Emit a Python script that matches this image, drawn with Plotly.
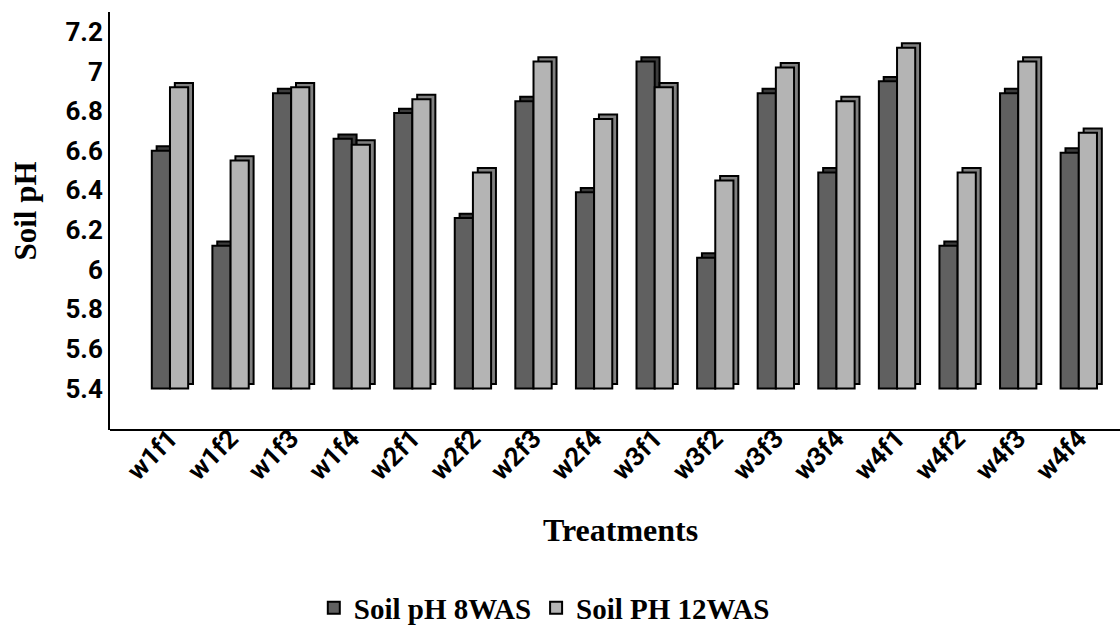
import plotly.graph_objects as go

categories = ["w1f1", "w1f2", "w1f3", "w1f4", "w2f1", "w2f2", "w2f3", "w2f4",
              "w3f1", "w3f2", "w3f3", "w3f4", "w4f1", "w4f2", "w4f3", "w4f4"]
ph_8was = [6.60, 6.12, 6.89, 6.66, 6.79, 6.26, 6.85, 6.39,
           7.05, 6.06, 6.89, 6.49, 6.95, 6.12, 6.89, 6.59]
ph_12was = [6.92, 6.55, 6.92, 6.63, 6.86, 6.49, 7.05, 6.76,
            6.92, 6.45, 7.02, 6.85, 7.12, 6.49, 7.05, 6.69]
y_tickvals = [5.4, 5.6, 5.8, 6.0, 6.2, 6.4, 6.6, 6.8, 7.0, 7.2]
y_ticktext = ["5.4", "5.6", "5.8", "6", "6.2", "6.4", "6.6", "6.8", "7", "7.2"]
series_names = ["Soil pH 8WAS", "Soil PH 12WAS"]

BASE = 5.4
W = 0.3       # bar width (category units)
SHIFT = 0.08  # depth offset (category units)
DEPTH = 0.022 # depth offset (value units)

front_colors = ["#606060", "#b4b4b4"]
side_colors = ["#3c3c3c", "#808080"]
offsets = [-W, 0.0]

fig = go.Figure()
for i, vals in enumerate([ph_8was, ph_12was]):
    # depth (side/top) face
    fig.add_trace(go.Bar(
        x=categories, y=[v - BASE for v in vals], base=BASE + DEPTH,
        offset=offsets[i] + SHIFT, width=W,
        marker=dict(color=side_colors[i], line=dict(color="black", width=2)),
        showlegend=False, hoverinfo="skip",
    ))
    # front face
    fig.add_trace(go.Bar(
        x=categories, y=[v - BASE for v in vals], base=BASE,
        offset=offsets[i], width=W, name=series_names[i],
        marker=dict(color=front_colors[i], line=dict(color="black", width=2)),
        customdata=vals, hovertemplate="%{x}: %{customdata}<extra>%{fullData.name}</extra>",
    ))

fig.update_layout(
    width=1120, height=628,
    margin=dict(l=110, r=0, t=12, b=198, autoexpand=False),
    paper_bgcolor="white", plot_bgcolor="white",
    barmode="overlay",
    showlegend=True,
    legend=dict(orientation="h", x=0.43, xanchor="center",
                yref="container", y=0.032, yanchor="middle",
                font=dict(family="Liberation Serif", size=29, color="black", weight="bold"),
                traceorder="normal"),
    xaxis=dict(range=[-0.99, 15.68], showline=False,
               anchor="free", position=0.031,
               showgrid=False, zeroline=False, ticks="", tickangle=-45, automargin=False,
               tickfont=dict(family="Roboto", size=26, color="black", weight="bold")),
    yaxis=dict(range=[5.19, 7.30], showline=True, linecolor="black", linewidth=2,
               showgrid=False, zeroline=False, ticks="", automargin=False,
               tickvals=y_tickvals, ticktext=y_ticktext,
               tickfont=dict(family="Roboto", size=26, color="black", weight="bold")),
    shapes=[dict(type="line", xref="paper", yref="paper", x0=0, x1=1, y0=0, y1=0,
                 line=dict(color="black", width=2))],
    annotations=[
        dict(text="Soil pH", xref="paper", yref="paper", x=-0.084, y=0.523,
             textangle=-90, showarrow=False, xanchor="center", yanchor="middle",
             font=dict(family="Liberation Serif", size=31, color="black", weight="bold")),
        dict(text="Treatments", xref="paper", yref="paper", x=0.505, y=-0.239,
             showarrow=False, xanchor="center", yanchor="middle",
             font=dict(family="Liberation Serif", size=32, color="black", weight="bold")),
    ],
)

fig.write_html("out.html", config={"displayModeBar": False},
               post_script="document.body.style.margin='0';document.body.style.padding='0';")
